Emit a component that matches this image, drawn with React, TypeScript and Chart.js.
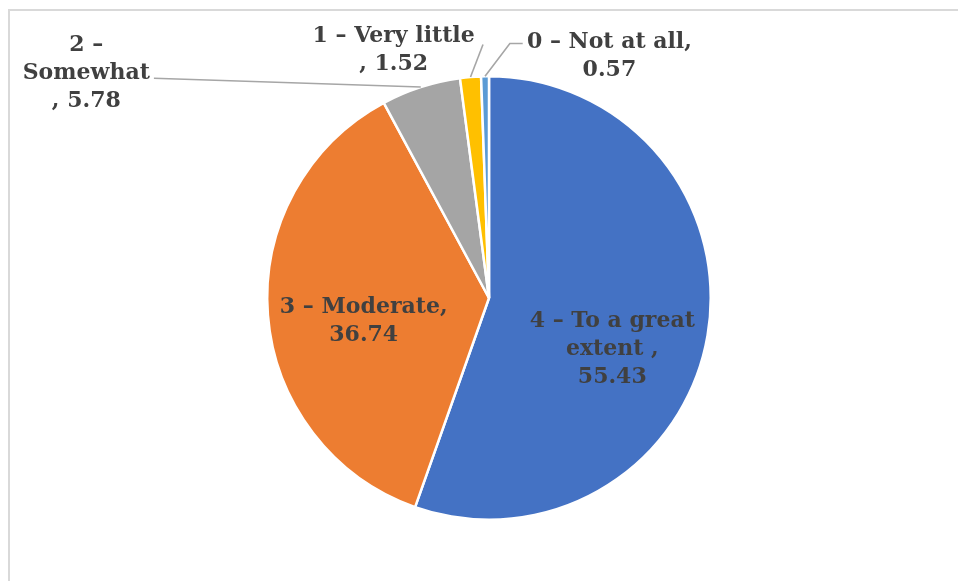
import React, { useEffect, useRef } from "react";
import { Chart, registerables } from "chart.js";

Chart.register(...registerables);

const categories = [
  "4 – To a great extent",
  "3 – Moderate",
  "2 – Somewhat",
  "1 – Very little",
  "0 – Not at all",
];
const values = [55.43, 36.74, 5.78, 1.52, 0.57];
const labelLines = [
  ["4 – To a great", "extent ,", "55.43"],
  ["3 – Moderate,", "36.74"],
  ["2 –", "Somewhat", ", 5.78"],
  ["1 – Very little", ", 1.52"],
  ["0 – Not at all,", "0.57"],
];
const colors = ["#4472C4", "#ED7D31", "#A5A5A5", "#FFC000", "#5B9BD5"];

// label placement in units of the pie radius, relative to the pie centre
const labelPos = [
  { dx: 0.556, dy: 0.233, leader: null as null | number[][] },
  { dx: -0.565, dy: 0.103, leader: null },
  { dx: -1.816, dy: -1.013, leader: [[-1.511, -0.991]] },
  { dx: -0.43, dy: -1.117, leader: [[-0.027, -1.143]] },
  { dx: 0.543, dy: -1.09, leader: [[0.094, -1.148], [0.152, -1.148]] },
];

const FONT = 'bold 22px "DejaVu Serif"';
const LINE_H = 28;

const labelPlugin = {
  id: "pieLabels",
  afterDatasetsDraw(chart: any) {
    const ctx = chart.ctx as CanvasRenderingContext2D;
    const meta = chart.getDatasetMeta(0);
    ctx.save();
    meta.data.forEach((arc: any, i: number) => {
      const p = arc.getProps(["x", "y", "startAngle", "endAngle", "outerRadius"], true);
      const r = p.outerRadius;
      const mid = (p.startAngle + p.endAngle) / 2;
      const spec = labelPos[i];
      if (spec.leader) {
        ctx.strokeStyle = "#A6A6A6";
        ctx.lineWidth = 1.6;
        ctx.beginPath();
        ctx.moveTo(p.x + Math.cos(mid) * r, p.y + Math.sin(mid) * r);
        spec.leader.forEach((pt) => ctx.lineTo(p.x + pt[0] * r, p.y + pt[1] * r));
        ctx.stroke();
      }
      const lines = labelLines[i];
      const cx = p.x + spec.dx * r;
      const cy = p.y + spec.dy * r;
      ctx.font = FONT;
      ctx.fillStyle = "#404040";
      ctx.textAlign = "center";
      ctx.textBaseline = "middle";
      const top = cy - ((lines.length - 1) * LINE_H) / 2;
      lines.forEach((t, k) => ctx.fillText(t, cx, top + k * LINE_H));
    });
    ctx.restore();
  },
};

export default function App() {
  const ref = useRef<HTMLCanvasElement | null>(null);
  useEffect(() => {
    if (!ref.current) return;
    const chart = new Chart(ref.current, {
      type: "pie",
      data: {
        labels: categories,
        datasets: [
          {
            data: values,
            backgroundColor: colors,
            borderColor: "#FFFFFF",
            borderWidth: 2.5,
          },
        ],
      },
      options: {
        animation: false,
        responsive: false,
        layout: { padding: { left: 266, right: 246, top: 75, bottom: 60 } },
        plugins: {
          legend: { display: false },
          tooltip: { enabled: false },
        },
      },
      plugins: [labelPlugin],
    });
    return () => chart.destroy();
  }, []);
  return (
    <div style={{ position: "fixed", left: 0, top: 0, width: 958, height: 581, background: "#fff", overflow: "hidden" }}>
      <div
        style={{
          position: "absolute",
          left: 8,
          top: 9,
          width: 1000,
          height: 700,
          borderTop: "2px solid #D9D9D9",
          borderLeft: "2px solid #D9D9D9",
        }}
      />
      <canvas ref={ref} width={958} height={581} style={{ position: "absolute", left: 0, top: 0 }} />
    </div>
  );
}
